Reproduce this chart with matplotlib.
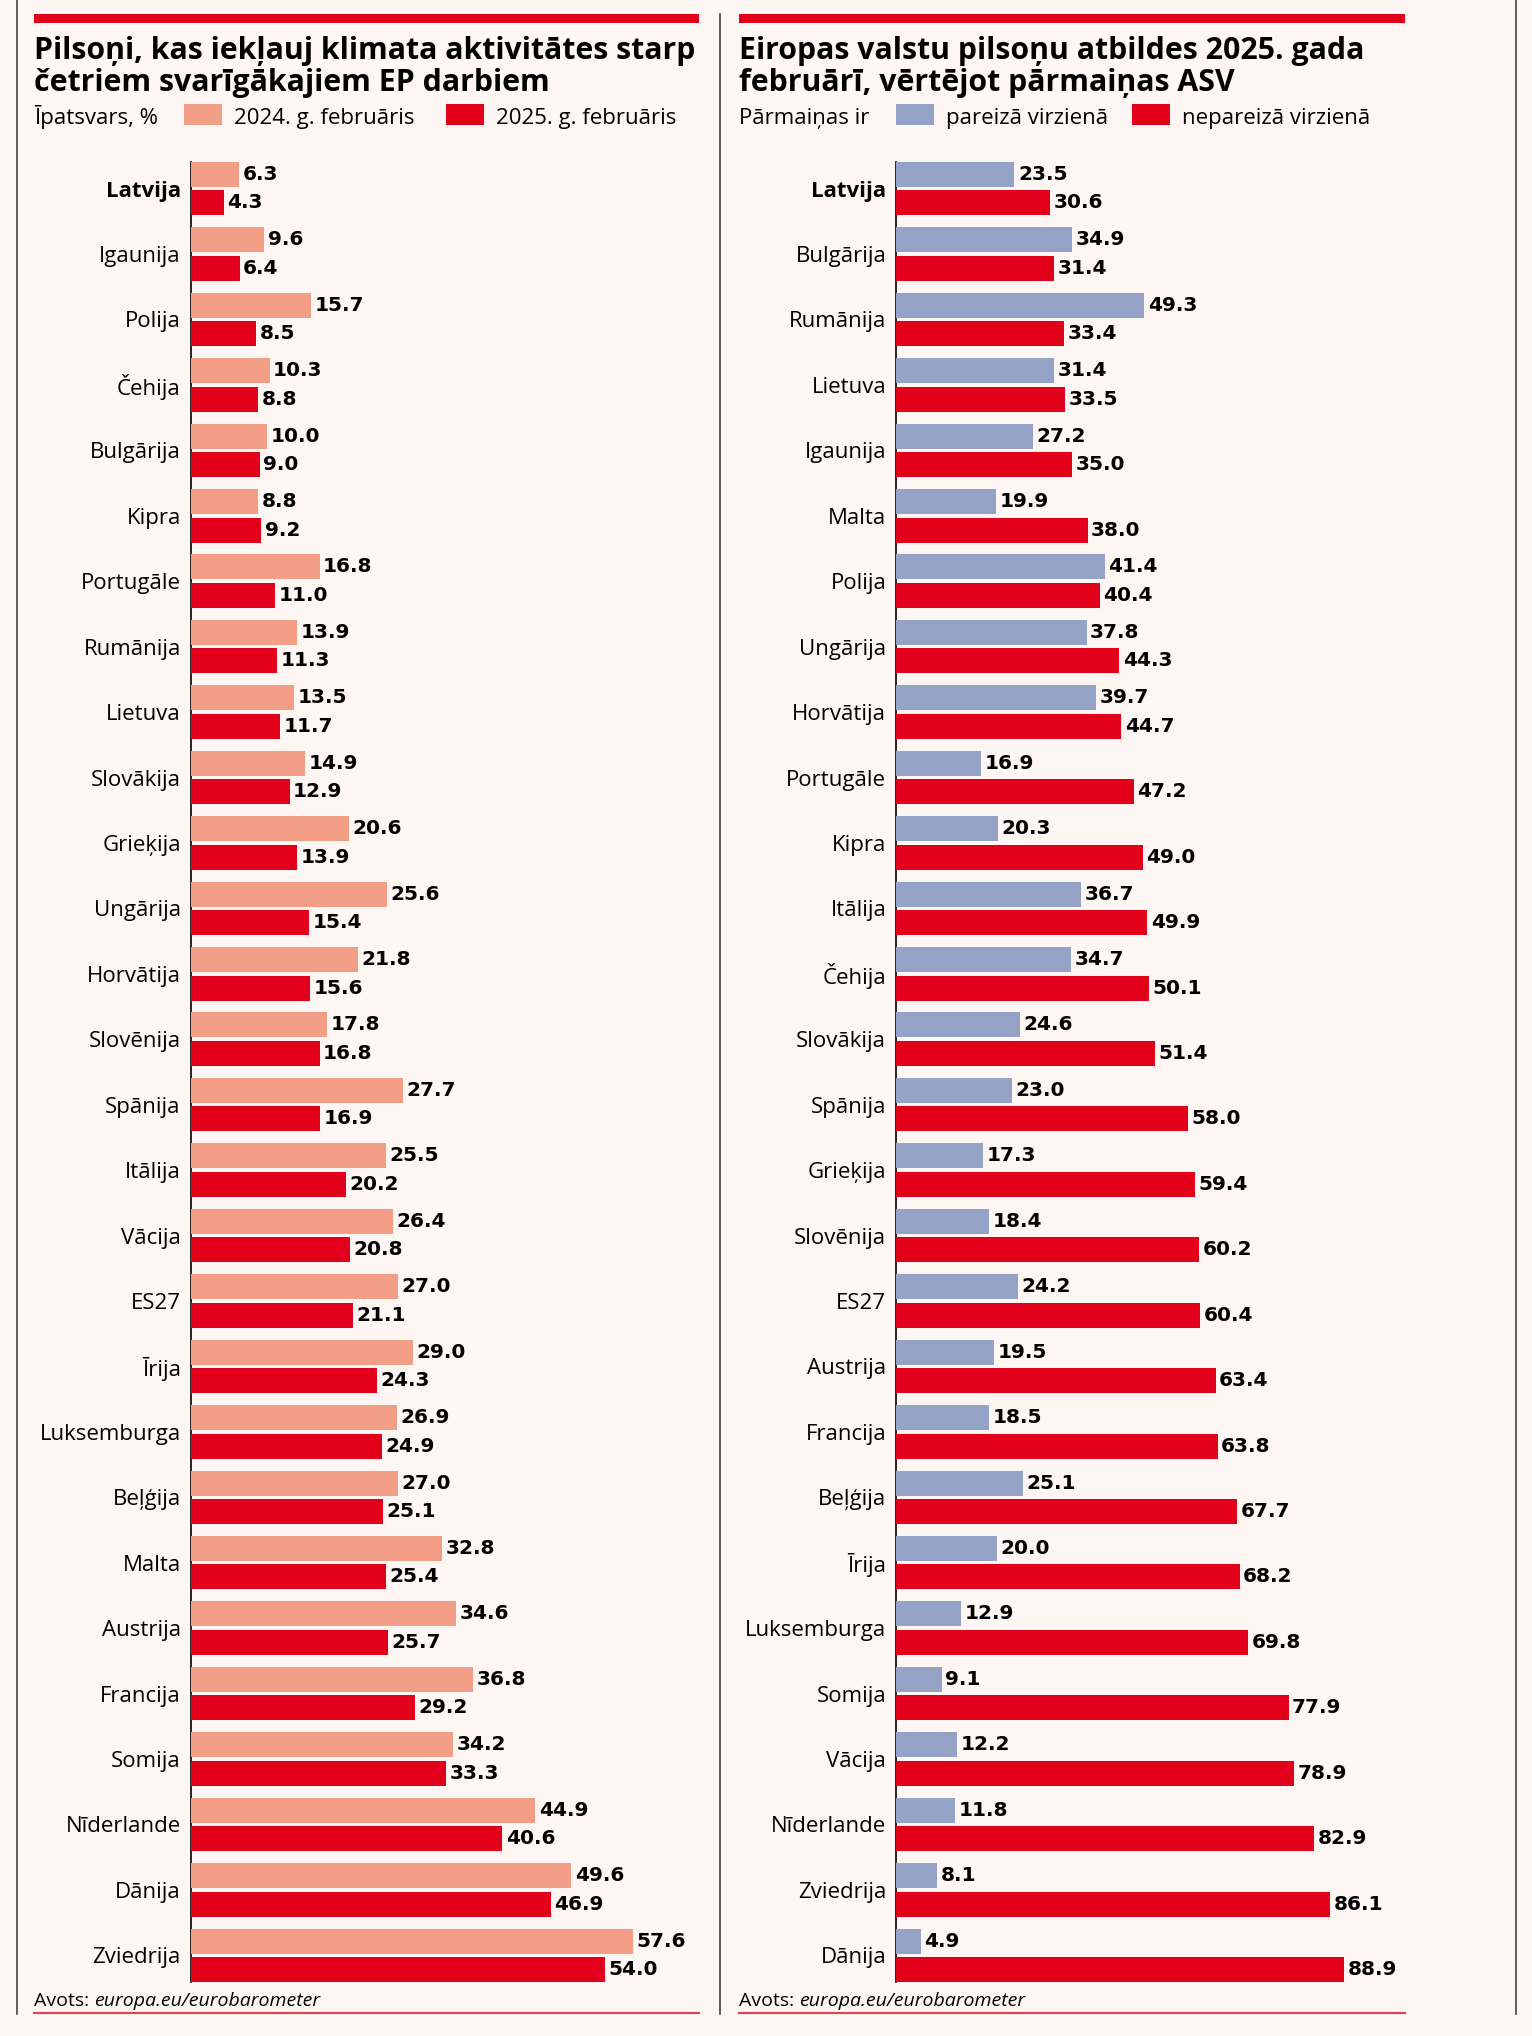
import matplotlib.pyplot as plt
from matplotlib.patches import Rectangle
from matplotlib.lines import Line2D

plt.rcParams['font.family'] = ['Open Sans', 'DejaVu Sans']

BG = '#FDF6F3'
RED = '#E2001A'
SALMON = '#F29D86'
BLUE = '#94A2C6'

# left chart: climate action among top-4 EP priorities, %
left_countries = ['Latvija', 'Igaunija', 'Polija', 'Čehija', 'Bulgārija', 'Kipra',
                  'Portugāle', 'Rumānija', 'Lietuva', 'Slovākija', 'Grieķija',
                  'Ungārija', 'Horvātija', 'Slovēnija', 'Spānija', 'Itālija',
                  'Vācija', 'ES27', 'Īrija', 'Luksemburga', 'Beļģija', 'Malta',
                  'Austrija', 'Francija', 'Somija', 'Nīderlande', 'Dānija', 'Zviedrija']
feb_2024 = [6.3, 9.6, 15.7, 10.3, 10.0, 8.8, 16.8, 13.9, 13.5, 14.9, 20.6, 25.6, 21.8,
            17.8, 27.7, 25.5, 26.4, 27.0, 29.0, 26.9, 27.0, 32.8, 34.6, 36.8, 34.2,
            44.9, 49.6, 57.6]
feb_2025 = [4.3, 6.4, 8.5, 8.8, 9.0, 9.2, 11.0, 11.3, 11.7, 12.9, 13.9, 15.4, 15.6,
            16.8, 16.9, 20.2, 20.8, 21.1, 24.3, 24.9, 25.1, 25.4, 25.7, 29.2, 33.3,
            40.6, 46.9, 54.0]

# right chart: changes in the USA are going in ...
right_countries = ['Latvija', 'Bulgārija', 'Rumānija', 'Lietuva', 'Igaunija', 'Malta',
                   'Polija', 'Ungārija', 'Horvātija', 'Portugāle', 'Kipra', 'Itālija',
                   'Čehija', 'Slovākija', 'Spānija', 'Grieķija', 'Slovēnija', 'ES27',
                   'Austrija', 'Francija', 'Beļģija', 'Īrija', 'Luksemburga', 'Somija',
                   'Vācija', 'Nīderlande', 'Zviedrija', 'Dānija']
right_dir = [23.5, 34.9, 49.3, 31.4, 27.2, 19.9, 41.4, 37.8, 39.7, 16.9, 20.3, 36.7,
             34.7, 24.6, 23.0, 17.3, 18.4, 24.2, 19.5, 18.5, 25.1, 20.0, 12.9, 9.1,
             12.2, 11.8, 8.1, 4.9]
wrong_dir = [30.6, 31.4, 33.4, 33.5, 35.0, 38.0, 40.4, 44.3, 44.7, 47.2, 49.0, 49.9,
             50.1, 51.4, 58.0, 59.4, 60.2, 60.4, 63.4, 63.8, 67.7, 68.2, 69.8, 77.9,
             78.9, 82.9, 86.1, 88.9]

W, H = 1532, 2036
fig = plt.figure(figsize=(W / 100, H / 100), dpi=100, facecolor=BG)


def fx(x):
    return x / W


def fy(y):
    return 1 - y / H


def bar_panel(x0, x1, xmax, countries, a, b, ca, cb):
    ax = fig.add_axes([fx(x0), fy(1990), fx(x1 - x0), 1840 / H])
    ax.set_facecolor('none')
    n = len(countries)
    pos = list(range(n))
    off, h = 0.218, 0.382
    r1 = ax.barh([p - off for p in pos], a, height=h, color=ca)
    r2 = ax.barh([p + off for p in pos], b, height=h, color=cb)
    for r in (r1, r2):
        ax.bar_label(r, fmt='%.1f', padding=2.5, fontsize=14.5, fontweight='bold',
                     family='DejaVu Sans', color='black')
    ax.set_xlim(0, xmax)
    ax.set_ylim(27.53, -0.59)
    ax.set_yticks(pos)
    ax.set_yticklabels(countries, fontsize=16)
    for t in ax.get_yticklabels():
        if t.get_text() == 'Latvija':
            t.set_fontweight('bold')
    ax.tick_params(axis='y', length=0, pad=7)
    ax.set_xticks([])
    for s in ['top', 'right', 'bottom']:
        ax.spines[s].set_visible(False)
    ax.spines['left'].set_bounds(-0.41, n - 1 + 0.41)
    ax.spines['left'].set_linewidth(1.2)
    ax.spines['left'].set_zorder(0.5)
    return ax


bar_panel(190.5, 700, (700 - 190.5) / 7.68, left_countries, feb_2024, feb_2025, SALMON, RED)
bar_panel(896, 1420, (1420 - 896) / 5.04, right_countries, right_dir, wrong_dir, BLUE, RED)

# frame lines
for x, y0 in [(17, 0), (720, 14), (1516, 0)]:
    fig.add_artist(Line2D([fx(x), fx(x)], [fy(y0), fy(2014)], color='#333333', lw=1.1))
for x0, x1 in [(34, 699), (739, 1405)]:
    fig.add_artist(Rectangle((fx(x0), fy(23)), fx(x1 - x0), 9 / H, color=RED, lw=0))
    fig.add_artist(Line2D([fx(x0), fx(x1)], [fy(2013), fy(2013)], color=RED, lw=1.5, alpha=0.75))

# titles
titles = [(34, ['Pilsoņi, kas iekļauj klimata aktivitātes starp',
                'četriem svarīgākajiem EP darbiem']),
          (739, ['Eiropas valstu pilsoņu atbildes 2025. gada',
                 'februārī, vērtējot pārmaiņas ASV'])]
for x, lines in titles:
    for i, line in enumerate(lines):
        fig.text(fx(x), fy(58.5 + 32.4 * i), line, fontsize=21.8, fontweight='bold',
                 va='baseline', ha='left')

# legends
legends = [(34, 'Īpatsvars, %', [(184, SALMON, '2024. g. februāris'), (446, RED, '2025. g. februāris')]),
           (739, 'Pārmaiņas ir', [(896, BLUE, 'pareizā virzienā'), (1132, RED, 'nepareizā virzienā')])]
for x, head, items in legends:
    fig.text(fx(x), fy(124), head, fontsize=16, va='baseline', ha='left')
    for px, col, lab in items:
        fig.add_artist(Rectangle((fx(px), fy(125)), fx(38), 21 / H, color=col, lw=0))
        fig.text(fx(px + 50), fy(124), lab, fontsize=16, va='baseline', ha='left')

# source
renderer = fig.canvas.get_renderer()
for x in (34, 739):
    t = fig.text(fx(x), fy(2006), 'Avots: ', fontsize=14, va='baseline', ha='left')
    bb = t.get_window_extent(renderer)
    fig.text(bb.x1 / W, fy(2006), 'europa.eu/eurobarometer', fontsize=14,
             style='italic', va='baseline', ha='left')

fig.savefig('out.png', dpi=100, facecolor=BG)
